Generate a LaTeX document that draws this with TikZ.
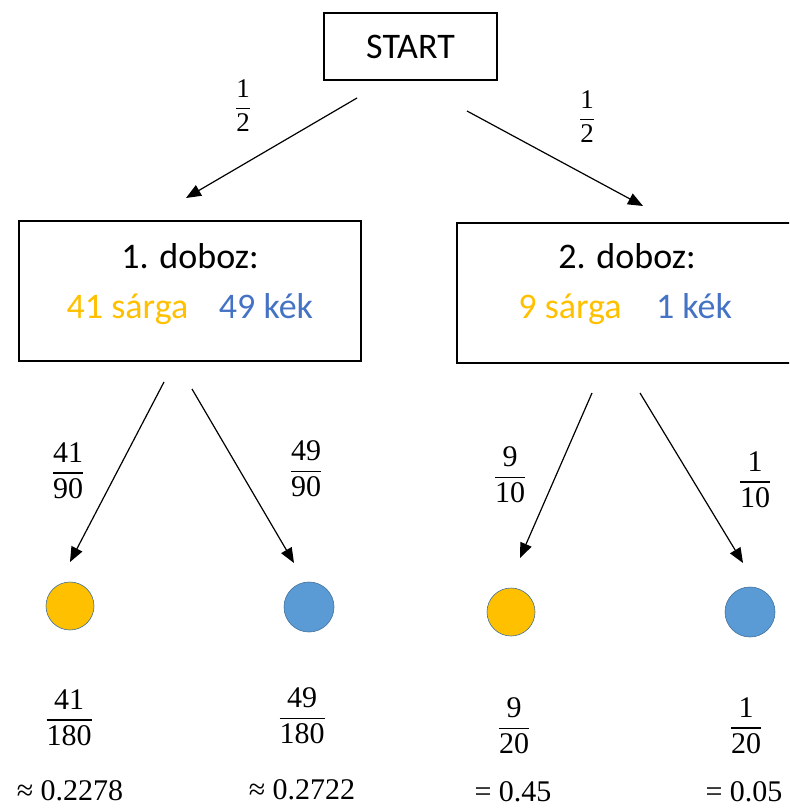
\documentclass[tikz,border=0pt]{standalone}
\usepackage{amsmath}
\usepackage{fontspec}
\setmainfont{Carlito}
\newfontfamily\cam{Liberation Serif}
\usetikzlibrary{arrows.meta}
\definecolor{yel}{HTML}{FFC000}
\definecolor{blu}{HTML}{4472C4}
\definecolor{ballblue}{HTML}{5B9BD5}
\definecolor{ballrim}{HTML}{41719C}
\newcommand\myfr[2]{$\genfrac{}{}{1.6pt}{0}{\hbox{\cam #1}}{\hbox{\cam #2}}$}
\newcommand\mysfr[2]{$\genfrac{}{}{1.4pt}{0}{\hbox{\cam #1}}{\hbox{\cam #2}}$}
\begin{document}
\begin{tikzpicture}[x=1pt,y=-1pt,
  boxnode/.style={draw, line width=1.5pt, inner sep=0pt},
  txt/.style={font=\fontsize{36}{42}\selectfont, inner sep=0pt, anchor=base},
  bigfr/.style={font=\fontsize{30}{36}\selectfont, inner sep=0pt},
  smallfr/.style={font=\fontsize{27}{32}\selectfont, inner sep=0pt},
  res/.style={font=\fontsize{30}{36}\selectfont\cam, inner sep=0pt, anchor=base},
  arr/.style={line width=1.2pt, -{Triangle[length=15pt,width=12pt]}},
  yball/.style={circle, fill=yel, draw=ballrim, line width=0.6pt, minimum size=48pt, inner sep=0pt},
  bball/.style={circle, fill=ballblue, draw=ballrim, line width=0.6pt, minimum size=50pt, inner sep=0pt}]
\useasboundingbox (0,0) rectangle (789,810);
\clip (0,0) rectangle (789,810);

% boxes
\node[boxnode, minimum width=173pt, minimum height=67pt, font=\fontsize{36}{42}\selectfont] (start) at (410.5,46.5) {START};
\node[boxnode, minimum width=342pt, minimum height=140pt] (box1) at (190,291) {};
\node[boxnode, minimum width=363pt, minimum height=140pt] (box2) at (638.5,293) {};

% box texts
\node[txt] (b1t) at (190,268) {1. doboz:};
\node[txt, text=yel] (b1y) at (127.5,318) {41 sárga};
\node[txt, text=blu] (b1b) at (266,318) {49 kék};
\node[txt] (b2t) at (627,268) {2. doboz:};
\node[txt, text=yel] (b2y) at (570,318) {9 sárga};
\node[txt, text=blu] (b2b) at (694,318) {1 kék};

% arrow end points
\coordinate (s1) at (357,98);  \coordinate (e1) at (186,198);
\coordinate (s2) at (467,111); \coordinate (e2) at (643,206);
\coordinate (s3) at (164,382); \coordinate (e3) at (70,562);
\coordinate (s4) at (192,389); \coordinate (e4) at (294,563);
\coordinate (s5) at (592,393); \coordinate (e5) at (520,558);
\coordinate (s6) at (640,393); \coordinate (e6) at (743,563);
\draw[arr] (s1) -- (e1);
\draw[arr] (s2) -- (e2);
\draw[arr] (s3) -- (e3);
\draw[arr] (s4) -- (e4);
\draw[arr] (s5) -- (e5);
\draw[arr] (s6) -- (e6);

% edge labels
\node[smallfr] (l1) at (243,106) {\mysfr{1}{2}};
\node[smallfr] (l2) at (587,117) {\mysfr{1}{2}};
\node[bigfr] (l3) at (68,471) {\myfr{41}{90}};
\node[bigfr] (l4) at (306,469) {\myfr{49}{90}};
\node[bigfr] (l5) at (510,475) {\myfr{9}{10}};
\node[bigfr] (l6) at (755,480) {\myfr{1}{10}};

% balls
\node[yball] (y1) at (70,606) {};
\node[bball] (k1) at (309,607) {};
\node[yball] (y2) at (511,612) {};
\node[bball] (k2) at (750,612) {};

% results
\node[bigfr] (r1) at (69,718) {\myfr{41}{180}};
\node[bigfr] (r2) at (302,716) {\myfr{49}{180}};
\node[bigfr] (r3) at (514,726) {\myfr{9}{20}};
\node[bigfr] (r4) at (746,726) {\myfr{1}{20}};
\node[res] (v1) at (70,800) {≈ 0.2278};
\node[res] (v2) at (302,799) {≈ 0.2722};
\node[res] (v3) at (513,801) {= 0.45};
\node[res] (v4) at (744,801) {= 0.05};
\end{tikzpicture}
\end{document}
